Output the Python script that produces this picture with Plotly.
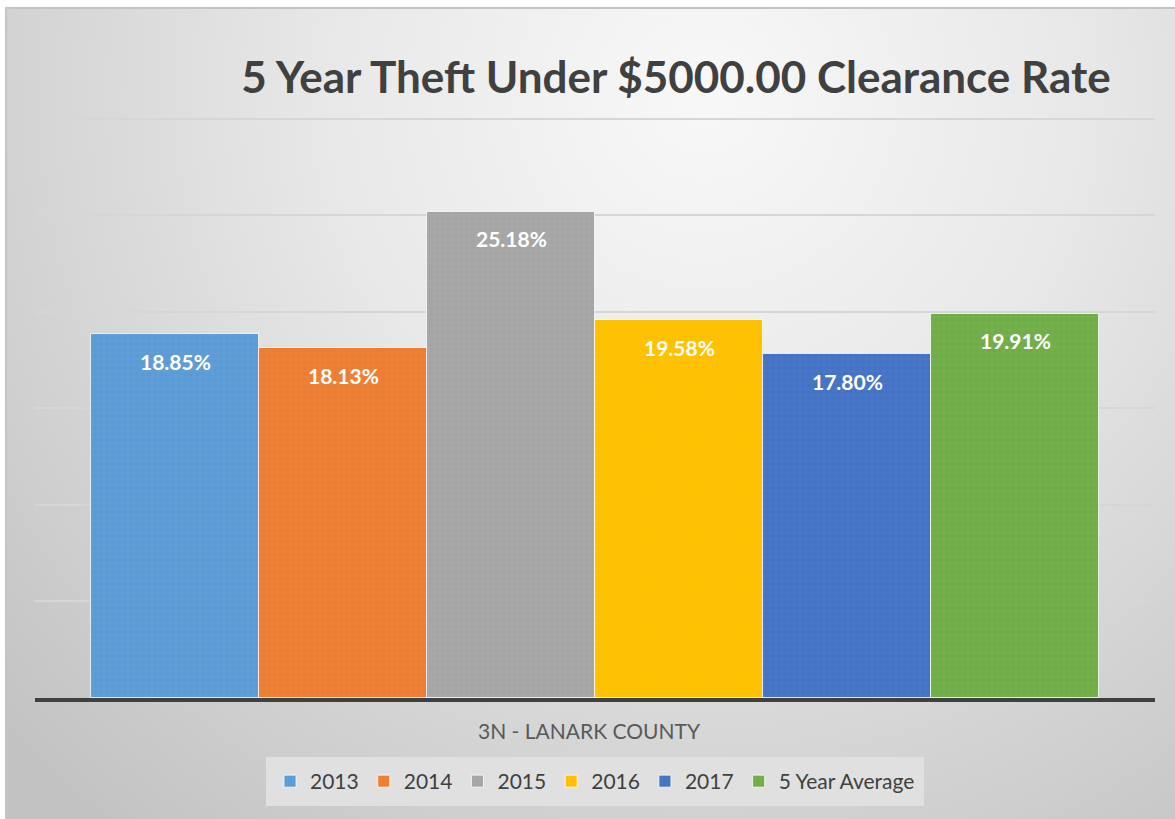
import base64
import plotly.graph_objects as go

# ---- data ----
series = ["2013", "2014", "2015", "2016", "2017", "5 Year Average"]
values = [18.85, 18.13, 25.18, 19.58, 17.80, 19.91]
value_labels = ["18.85%", "18.13%", "25.18%", "19.58%", "17.80%", "19.91%"]
colors = ["#5B9BD5", "#ED7D31", "#A5A5A5", "#FFC000", "#4472C4", "#70AD47"]
category = "3N - LANARK COUNTY"
title_text = "5 Year Theft Under $5000.00 Clearance Rate"
y_ticks = [0, 5, 10, 15, 20, 25, 30]
y_max = 30.15

W, H = 1175, 819
ML, MR, MB = 35, 20, 121
PH = round(579 * y_max / 30)
MT = H - MB - PH
PW = W - ML - MR

# background gradient (styling only)
svg = (
    '<svg xmlns="http://www.w3.org/2000/svg" width="1170" height="812" viewBox="0 0 1170 812">'
    '<defs><radialGradient id="g" gradientUnits="userSpaceOnUse" cx="700" cy="90" r="950">'
    '<stop offset="0" stop-color="#f8f8f8"/><stop offset="0.4" stop-color="#e8e8e8"/>'
    '<stop offset="1" stop-color="#c2c2c2"/></radialGradient></defs>'
    '<rect x="0" y="0" width="1170" height="812" fill="url(#g)"/>'
    '<line x1="0" y1="1" x2="1170" y2="1" stroke="#c4c4c4" stroke-width="2"/>'
    '<line x1="1" y1="0" x2="1" y2="812" stroke="#c4c4c4" stroke-width="2"/>'
    '</svg>'
)
bg_src = "data:image/svg+xml;base64," + base64.b64encode(svg.encode()).decode()

fig = go.Figure()
for s, v, c in zip(series, values, colors):
    fig.add_trace(go.Bar(
        x=[s], y=[v], name=s, width=1,
        marker=dict(color=c, line=dict(color="rgba(255,255,255,0.75)", width=1),
                    pattern=dict(shape="+", fgcolor="rgba(255,255,255,0.22)", size=6,
                                 solidity=0.12, fillmode="overlay")),
        hoverinfo="skip",
    ))

annotations = []
for i, (v, lab) in enumerate(zip(values, value_labels)):
    annotations.append(dict(
        x=i, y=v, xref="x", yref="y", text=lab, showarrow=False,
        yanchor="middle", yshift=-27,
        font=dict(family="Lato", size=21, color="white", weight="bold"),
    ))
annotations.append(dict(
    x=0.495, y=0, xref="paper", yref="paper", text=category, showarrow=False,
    yanchor="middle", yshift=-32,
    font=dict(family="Lato", size=21, color="#595959"),
))

fig.update_layout(
    width=W, height=H,
    margin=dict(l=ML, r=MR, t=MT, b=MB),
    paper_bgcolor="white", plot_bgcolor="rgba(0,0,0,0)",
    barmode="overlay", bargap=0,
    title=dict(text=title_text, x=676 / W, xref="container", xanchor="center",
               y=1 - 78 / H, yref="container", yanchor="middle",
               font=dict(family="Lato", size=44, color="#404040", weight="bold")),
    xaxis=dict(type="category", categoryorder="array", categoryarray=series,
               range=[-0.5 - (PW / 168 - 6) / 2, 5.5 + (PW / 168 - 6) / 2],
               showticklabels=False, showgrid=False, ticks="",
               showline=True, linecolor="#404040", linewidth=4, zeroline=False),
    yaxis=dict(range=[0, y_max], tickvals=y_ticks, showticklabels=False,
               showgrid=True, gridcolor="#d6d6d6", gridwidth=2,
               zeroline=False, showline=False, ticks=""),
    legend=dict(orientation="h", x=0.5, xanchor="center",
                y=-(757 - 698) / PH, yanchor="top",
                bgcolor="#e0e0e0", bordercolor="#e0e0e0", borderwidth=4,
                font=dict(family="Lato", size=21, color="#404040"),
                itemclick=False, itemdoubleclick=False),
    annotations=annotations,
    images=[dict(source=bg_src, xref="paper", yref="paper",
                 x=(5 - ML) / PW, y=(H - MB - 7) / PH,
                 sizex=1170 / PW, sizey=812 / PH,
                 xanchor="left", yanchor="top", sizing="stretch", layer="below")],
)

fig.write_html("out.html", config={"displayModeBar": False},
               post_script="document.body.style.margin='0';")
